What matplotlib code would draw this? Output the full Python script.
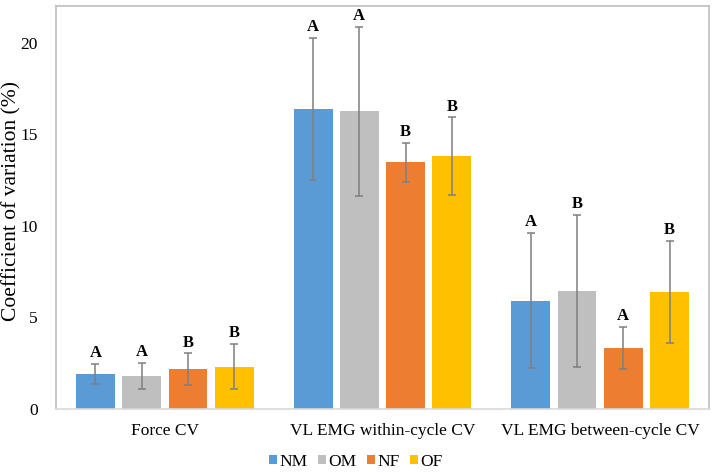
import numpy as np
import matplotlib
matplotlib.use("Agg")
import matplotlib.pyplot as plt

plt.rcParams["font.family"] = ["Liberation Serif", "DejaVu Serif"]

# data
groups = ["Force CV", "VL EMG within-cycle CV", "VL EMG between-cycle CV"]
series = ["NM", "OM", "NF", "OF"]
colors = ["#5B9BD5", "#BFBFBF", "#ED7D31", "#FFC000"]

nm = [1.90, 16.38, 5.92]
om = [1.80, 16.25, 6.45]
nf = [2.17, 13.46, 3.35]
of = [2.31, 13.79, 6.39]

nm_err = [0.55, 3.90, 3.70]
om_err = [0.70, 4.63, 4.15]
nf_err = [0.86, 1.06, 1.14]
of_err = [1.23, 2.13, 2.80]

nm_lab = ["A", "A", "A"]
om_lab = ["A", "A", "B"]
nf_lab = ["B", "B", "A"]
of_lab = ["B", "B", "B"]

vals = [nm, om, nf, of]
errs = [nm_err, om_err, nf_err, of_err]
labs = [nm_lab, om_lab, nf_lab, of_lab]

fig = plt.figure(figsize=(7.14, 4.74), dpi=100)
ax = fig.add_axes([56 / 714, 1 - 409 / 474, 653 / 714, 403 / 474])

x = np.arange(len(groups))
step = 0.2128
width = 0.179
for i, name in enumerate(series):
    pos = x + (i - 1.5) * step
    ax.bar(pos, vals[i], width, color=colors[i], label=name, zorder=2)
    ax.errorbar(pos, vals[i], yerr=errs[i], fmt="none", ecolor="#7F7F7F",
                elinewidth=1.1, capsize=3, capthick=1.1, zorder=3)
    for p, v, e, t in zip(pos, vals[i], errs[i], labs[i]):
        ax.text(p, v + e + 0.15, t, ha="center", va="bottom",
                fontsize=12, fontweight="bold")

ax.set_xlim(-0.5, 2.5)
ax.set_ylim(0, 22)
ax.set_yticks([0, 5, 10, 15, 20])
ax.set_xticks(x)
ax.set_xticklabels(groups, fontsize=12.5)
ax.tick_params(axis="y", labelsize=12.5, length=0, pad=13)
ax.tick_params(axis="x", length=0, pad=10)
fig.text(12 / 714, 1 - 201 / 474, "Coefficient of variation (%)", rotation=90,
         ha="center", va="center", fontsize=15.5)

for s in ["left", "top", "right"]:
    ax.spines[s].set_color("#BFBFBF")
    ax.spines[s].set_linewidth(1.2)
ax.spines["bottom"].set_color("#D9D9D9")
ax.spines["bottom"].set_linewidth(1.2)

ax.legend(loc="center", bbox_to_anchor=(356 / 714, 1 - 462 / 474),
          bbox_transform=fig.transFigure, ncol=4, frameon=False,
          fontsize=12.5, handlelength=0.45, handleheight=0.45,
          handletextpad=0.15, columnspacing=0.6)

fig.savefig("out.png", dpi=100)
